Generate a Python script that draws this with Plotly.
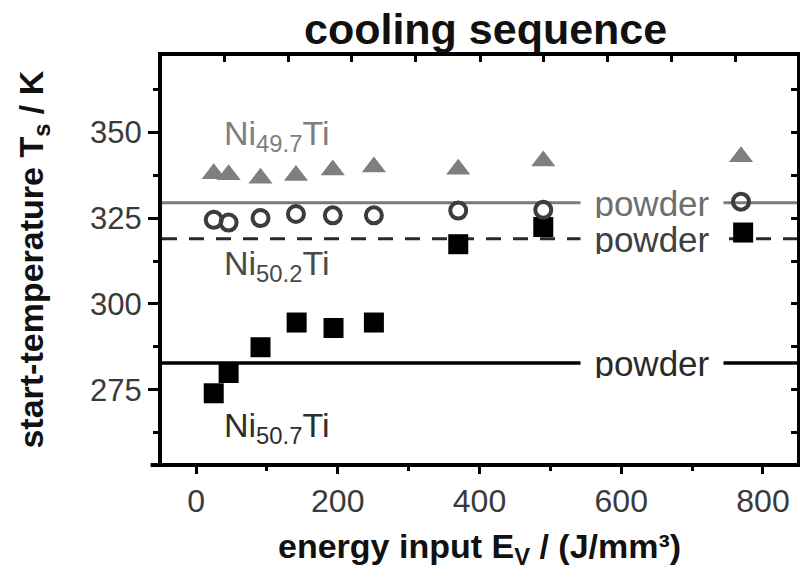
import plotly.graph_objects as go

# ---- data ----
ev_tri = [25, 46, 91, 141, 193, 251, 370, 490, 769]
ts_ni497 = [337.9, 337.6, 336.6, 337.4, 339.0, 339.9, 339.2, 341.6, 342.9]

ev_circ = [25, 46, 91, 141, 193, 251, 370, 490, 769]
ts_ni502 = [324.5, 323.7, 325.0, 326.2, 325.8, 325.8, 327.2, 327.4, 329.8]

ev_sq = [25, 46, 91, 142, 194, 251, 370, 490, 772]
ts_ni507 = [274.0, 279.9, 287.4, 294.6, 293.0, 294.6, 317.4, 322.4, 320.8]

powder_ni497 = 329.5
powder_ni502 = 319.0
powder_ni507 = 282.8

x_range = [-48, 848]
y_range = [253.7, 372.2]
x_major = [0, 200, 400, 600, 800]
y_major = [275, 300, 325, 350]
top_ticks = [40, 131, 220, 310, 401, 491, 580, 671, 761]

FONT = "Liberation Sans, Arial, sans-serif"

fig = go.Figure()

# powder reference lines
for val, col, dash, w in [
    (powder_ni497, "#7a7a7a", "solid", 3),
    (powder_ni502, "#2a2a2a", "15px,12px", 3),
    (powder_ni507, "#000000", "solid", 3.5),
]:
    fig.add_trace(go.Scatter(
        x=x_range, y=[val, val], mode="lines",
        line=dict(color=col, width=w, dash=dash),
        hoverinfo="skip", showlegend=False))

fig.add_trace(go.Scatter(
    x=ev_sq, y=ts_ni507, mode="markers",
    marker=dict(symbol="square", size=20, color="#000000"),
    showlegend=False))
fig.add_trace(go.Scatter(
    x=ev_circ, y=ts_ni502, mode="markers",
    marker=dict(symbol="circle-open", size=16, color="#3c3c3c",
                line=dict(width=4, color="#3c3c3c")),
    showlegend=False))
fig.add_trace(go.Scatter(
    x=ev_tri, y=ts_ni497, mode="markers",
    marker=dict(symbol="triangle-up", size=21, color="#7f7f7f"),
    showlegend=False))

# "powder" labels with white box interrupting lines
for val, col in [(powder_ni497, "#6e6e6e"), (powder_ni502, "#404040"), (powder_ni507, "#2a2a2a")]:
    fig.add_annotation(x=644, y=val, xref="x", yref="y", text="powder",
                       showarrow=False, font=dict(family=FONT, size=35, color=col),
                       bgcolor="white", width=140, height=30, xanchor="center", yanchor="middle")

# composition labels
for txt, yv, col in [
    ("Ni<sub>49.7</sub>Ti", 349.2, "#7f7f7f"),
    ("Ni<sub>50.2</sub>Ti", 311.1, "#4a4a4a"),
    ("Ni<sub>50.7</sub>Ti", 264.0, "#2e2e2e"),
]:
    fig.add_annotation(x=36, y=yv, xref="x", yref="y", text=txt, showarrow=False,
                       font=dict(family=FONT, size=34, color=col),
                       xanchor="left", yanchor="middle")

# axis titles
fig.add_annotation(x=-0.203, y=0.5, xref="paper", yref="paper",
                   text="<b>start-temperature T<sub>s</sub> / K</b>", textangle=-90,
                   showarrow=False, font=dict(family=FONT, size=34, color="#111"),
                   xanchor="center", yanchor="middle")
fig.add_annotation(x=0.5, y=-0.209, xref="paper", yref="paper",
                   text="<b>energy input E<sub>V</sub> / (J/mm³)</b>",
                   showarrow=False, font=dict(family=FONT, size=34, color="#111"),
                   xanchor="center", yanchor="middle")
fig.add_annotation(x=0.509, y=1.0, xref="paper", yref="paper", yshift=27,
                   text="<b>cooling sequence</b>",
                   showarrow=False, font=dict(family=FONT, size=43, color="#111"),
                   xanchor="center", yanchor="middle")

# bottom axis extension to the left
fig.add_shape(type="line", xref="paper", yref="paper", x0=-0.018, x1=0.0, y0=-0.005, y1=-0.005,
              line=dict(color="black", width=4))

fig.update_layout(
    width=800, height=571,
    margin=dict(l=162, r=3, t=56, b=108),
    paper_bgcolor="white", plot_bgcolor="white",
    font=dict(family=FONT, color="#333"),
    xaxis=dict(range=x_range, tickvals=x_major, ticks="outside", ticklen=7, tickwidth=3,
               tickcolor="black", showline=True, linecolor="black", linewidth=4,
               showgrid=False, zeroline=False, tickfont=dict(size=32, color="#3a3a3a"),
               minor=dict(dtick=100, tick0=0, ticks="outside", ticklen=4, tickwidth=3,
                          tickcolor="black", showgrid=False)),
    xaxis2=dict(range=x_range, overlaying="x", side="top", tickvals=top_ticks,
                ticks="inside", ticklen=6, tickwidth=3, tickcolor="black",
                showticklabels=False, showline=True, linecolor="black", linewidth=4,
                showgrid=False, zeroline=False),
    yaxis=dict(range=y_range, tickvals=y_major, ticks="outside", ticklen=10, tickwidth=3,
               tickcolor="black", showline=True, linecolor="black", linewidth=4,
               showgrid=False, zeroline=False, tickfont=dict(size=31, color="#3a3a3a"),
               minor=dict(dtick=12.5, tick0=250, ticks="outside", ticklen=5, tickwidth=3,
                          tickcolor="black", showgrid=False)),
    yaxis2=dict(range=y_range, overlaying="y", side="right", dtick=12.5, tick0=250,
                ticks="inside", ticklen=6, tickwidth=3, tickcolor="black",
                showticklabels=False, showline=True, linecolor="black", linewidth=4,
                showgrid=False, zeroline=False),
)
# dummy trace to activate secondary axes
fig.add_trace(go.Scatter(x=[None], y=[None], xaxis="x2", yaxis="y2", showlegend=False))

fig.write_html("out.html")
